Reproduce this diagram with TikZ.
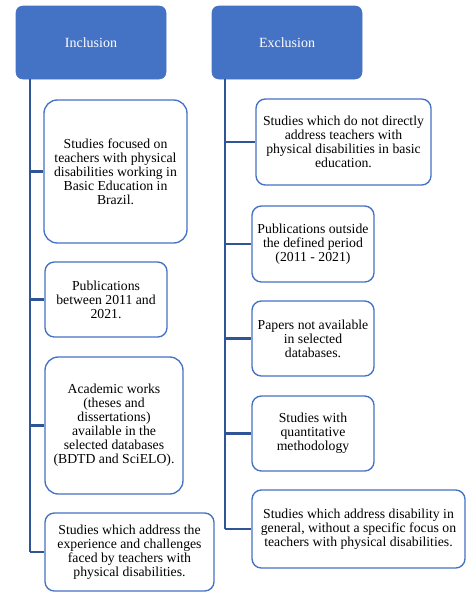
\documentclass[tikz,border=0pt]{standalone}
\usepackage{fontspec}
\setmainfont{Liberation Serif}
\usetikzlibrary{positioning}
\definecolor{hdblue}{HTML}{4472C4}
\definecolor{lnblue}{HTML}{2F5597}

\begin{document}
\begin{tikzpicture}[x=0.75pt,y=-0.75pt,
	head/.style={draw=hdblue, fill=hdblue, rounded corners=5pt, text=white, minimum width=112.5pt, minimum height=54.75pt, font=\fontsize{10.5}{12}\selectfont},
	crit/.style={draw=hdblue, line width=1pt, rounded corners=7pt, fill=white, align=center, inner sep=0pt, font=\fontsize{10.3}{10.5}\selectfont},
	trunk/.style={draw=lnblue, line width=1.6pt}]
	\useasboundingbox (0,0) rectangle (475,600);
	\node [head] (inc) at (91,42.5) {Inclusion};
	\node [head] (exc) at (287,42.5) {Exclusion};
	\node [crit, minimum width=107.25pt, minimum height=107.25pt, rounded corners=10pt] (inc1) at (115.5,171.5) {Studies focused on\\ teachers with physical\\ disabilities working in\\ Basic Education in\\ Brazil.};
	\node [crit, minimum width=91.5pt, minimum height=56.25pt] (inc2) at (106,299.5) {Publications\\ between 2011 and\\ 2021.};
	\node [crit, minimum width=103.5pt, minimum height=102.75pt, rounded corners=10pt] (inc3) at (114,425.5) {Academic works\\ (theses and\\ dissertations)\\ available in the\\ selected databases\\ (BDTD and SciELO).};
	\node [crit, minimum width=126.75pt, minimum height=58.5pt] (inc4) at (129.5,552) {Studies which address the\\ experience and challenges\\ faced by teachers with\\ physical disabilities.};
	\node [crit, minimum width=131.25pt, minimum height=64.5pt] (exc1) at (343.5,142) {Studies which do not directly\\ address teachers with\\ physical disabilities in basic\\ education.};
	\node [crit, minimum width=91.5pt, minimum height=57pt] (exc2) at (313,244) {Publications outside\\ the defined period\\ (2011 - 2021)};
	\node [crit, minimum width=91.5pt, minimum height=56.25pt] (exc3) at (313,338.5) {Papers not available\\ in selected\\ databases.};
	\node [crit, minimum width=91.5pt, minimum height=56.25pt] (exc4) at (313,433.5) {Studies with\\ quantitative\\ methodology};
	\node [crit, minimum width=159.75pt, minimum height=58.5pt] (exc5) at (358.5,529) {Studies which address disability in\\ general, without a specific focus on\\ teachers with physical disabilities.};
	\coordinate (inctop) at (30,79);
	\coordinate (exctop) at (225,79);
	\draw [trunk] (inctop) -- (inctop |- inc4.west);
	\draw [trunk] (exctop) -- (exctop |- exc5.west);
	\foreach \b in {inc1,inc2,inc3,inc4}
		\draw [trunk] (inctop |- \b.west) -- (\b.west);
	\foreach \b in {exc1,exc2,exc3,exc4,exc5}
		\draw [trunk] (exctop |- \b.west) -- (\b.west);
\end{tikzpicture}
\end{document}
